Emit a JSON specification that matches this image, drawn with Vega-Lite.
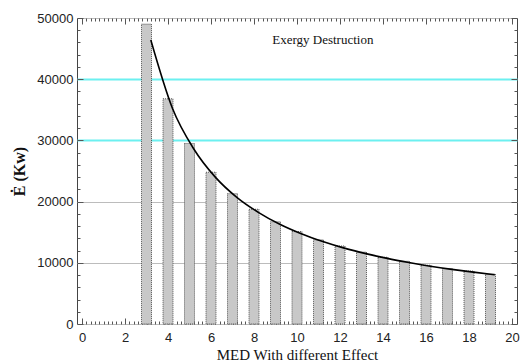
{
  "$schema": "https://vega.github.io/schema/vega-lite/v6.json",
  "width": 440,
  "height": 306,
  "autosize": "none",
  "padding": {"left": 77, "top": 18, "right": 9, "bottom": 38},
  "background": "white",
  "config": {
    "view": {"stroke": "#444", "strokeWidth": 1},
    "axis": {
      "domain": false,
      "labelFont": "Liberation Sans",
      "labelFontSize": 13,
      "labelColor": "#222",
      "titleFont": "Liberation Serif",
      "titleColor": "#111",
      "titleFontWeight": "normal"
    }
  },
  "datasets": {
    "bars": [
      {"effect": 3, "exergy": 49000},
      {"effect": 4, "exergy": 36800},
      {"effect": 5, "exergy": 29500},
      {"effect": 6, "exergy": 24800},
      {"effect": 7, "exergy": 21300},
      {"effect": 8, "exergy": 18750},
      {"effect": 9, "exergy": 16700},
      {"effect": 10, "exergy": 15100},
      {"effect": 11, "exergy": 13750},
      {"effect": 12, "exergy": 12750},
      {"effect": 13, "exergy": 11750},
      {"effect": 14, "exergy": 10900},
      {"effect": 15, "exergy": 10250},
      {"effect": 16, "exergy": 9600},
      {"effect": 17, "exergy": 9050},
      {"effect": 18, "exergy": 8650},
      {"effect": 19, "exergy": 8150}
    ],
    "curve": [
      {"x": 3.2, "y": 46400},
      {"x": 4.2, "y": 35300},
      {"x": 5.2, "y": 28600},
      {"x": 6.2, "y": 24000},
      {"x": 7.2, "y": 20700},
      {"x": 8.2, "y": 18250},
      {"x": 9.2, "y": 16300},
      {"x": 10.2, "y": 14750},
      {"x": 11.2, "y": 13480},
      {"x": 12.2, "y": 12400},
      {"x": 13.2, "y": 11500},
      {"x": 14.2, "y": 10720},
      {"x": 15.2, "y": 10050},
      {"x": 16.2, "y": 9450},
      {"x": 17.2, "y": 8930},
      {"x": 18.2, "y": 8470},
      {"x": 19.2, "y": 8050}
    ],
    "label": [{"x": 11.2, "y": 46400, "text": "Exergy Destruction"}]
  },
  "layer": [
    {
      "data": {"name": "bars"},
      "mark": {"type": "bar", "size": 10, "fill": "#c8c8c8", "stroke": "#333", "strokeWidth": 0.8, "strokeDash": [1, 1]},
      "encoding": {
        "x": {
          "field": "effect", "type": "quantitative",
          "scale": {"domain": [0, 20], "nice": false},
          "axis": {
            "orient": "bottom",
            "values": [0, 2, 4, 6, 8, 10, 12, 14, 16, 18, 20],
            "ticks": false, "grid": false, "labelPadding": 7,
            "title": "MED With different Effect", "titleFontSize": 15, "titlePadding": 3
          }
        },
        "y": {
          "field": "exergy", "type": "quantitative",
          "scale": {"domain": [0, 50000], "nice": false},
          "axis": {
            "orient": "left",
            "values": [0, 10000, 20000, 30000, 40000, 50000],
            "format": "d",
            "ticks": false, "labelPadding": 4, "grid": true,
            "gridColor": {"condition": {"test": "datum.value == 30000 || datum.value == 40000", "value": "#6cf0f0"}, "value": "#bcbcbc"},
            "gridWidth": {"condition": {"test": "datum.value == 30000 || datum.value == 40000", "value": 2}, "value": 1},
            "title": "Ė  (Kw)", "titleFontWeight": "bold", "titleFontSize": 16, "titlePadding": 9
          }
        }
      }
    },
    {
      "data": {"name": "curve"},
      "mark": {"type": "line", "color": "#000", "strokeWidth": 1.6, "interpolate": "monotone"},
      "encoding": {
        "x": {
          "field": "x", "type": "quantitative",
          "axis": {
            "orient": "bottom", "labels": false, "grid": false, "title": null, "tickColor": "#555",
            "values": [0,0.2,0.4,0.6,0.8,1,1.2,1.4,1.6,1.8,2,2.2,2.4,2.6,2.8,3,3.2,3.4,3.6,3.8,4,4.2,4.4,4.6,4.8,5,5.2,5.4,5.6,5.8,6,6.2,6.4,6.6,6.8,7,7.2,7.4,7.6,7.8,8,8.2,8.4,8.6,8.8,9,9.2,9.4,9.6,9.8,10,10.2,10.4,10.6,10.8,11,11.2,11.4,11.6,11.8,12,12.2,12.4,12.6,12.8,13,13.2,13.4,13.6,13.8,14,14.2,14.4,14.6,14.8,15,15.2,15.4,15.6,15.8,16,16.2,16.4,16.6,16.8,17,17.2,17.4,17.6,17.8,18,18.2,18.4,18.6,18.8,19,19.2,19.4,19.6,19.8,20],
            "tickSize": {"condition": {"test": "datum.value % 2 == 0", "value": -6}, "value": -3}
          }
        },
        "y": {
          "field": "y", "type": "quantitative",
          "axis": {
            "orient": "left", "labels": false, "grid": false, "title": null, "tickColor": "#555",
            "values": [0,2000,4000,6000,8000,10000,12000,14000,16000,18000,20000,22000,24000,26000,28000,30000,32000,34000,36000,38000,40000,42000,44000,46000,48000,50000],
            "tickSize": {"condition": {"test": "datum.value % 10000 == 0", "value": -6}, "value": -3}
          }
        }
      }
    },
    {
      "data": {"name": "label"},
      "mark": {"type": "text", "font": "Liberation Serif", "fontSize": 13, "color": "#111"},
      "encoding": {
        "x": {
          "field": "x", "type": "quantitative",
          "axis": {
            "orient": "top", "labels": false, "grid": false, "title": null, "tickColor": "#555",
            "values": [0,0.2,0.4,0.6,0.8,1,1.2,1.4,1.6,1.8,2,2.2,2.4,2.6,2.8,3,3.2,3.4,3.6,3.8,4,4.2,4.4,4.6,4.8,5,5.2,5.4,5.6,5.8,6,6.2,6.4,6.6,6.8,7,7.2,7.4,7.6,7.8,8,8.2,8.4,8.6,8.8,9,9.2,9.4,9.6,9.8,10,10.2,10.4,10.6,10.8,11,11.2,11.4,11.6,11.8,12,12.2,12.4,12.6,12.8,13,13.2,13.4,13.6,13.8,14,14.2,14.4,14.6,14.8,15,15.2,15.4,15.6,15.8,16,16.2,16.4,16.6,16.8,17,17.2,17.4,17.6,17.8,18,18.2,18.4,18.6,18.8,19,19.2,19.4,19.6,19.8,20],
            "tickSize": {"condition": {"test": "datum.value % 2 == 0", "value": -6}, "value": -3}
          }
        },
        "y": {
          "field": "y", "type": "quantitative",
          "axis": {
            "orient": "right", "labels": false, "grid": false, "title": null, "tickColor": "#555",
            "values": [0,2000,4000,6000,8000,10000,12000,14000,16000,18000,20000,22000,24000,26000,28000,30000,32000,34000,36000,38000,40000,42000,44000,46000,48000,50000],
            "tickSize": {"condition": {"test": "datum.value % 10000 == 0", "value": -6}, "value": -3}
          }
        },
        "text": {"field": "text"}
      }
    }
  ],
  "resolve": {"axis": {"x": "independent", "y": "independent"}}
}
